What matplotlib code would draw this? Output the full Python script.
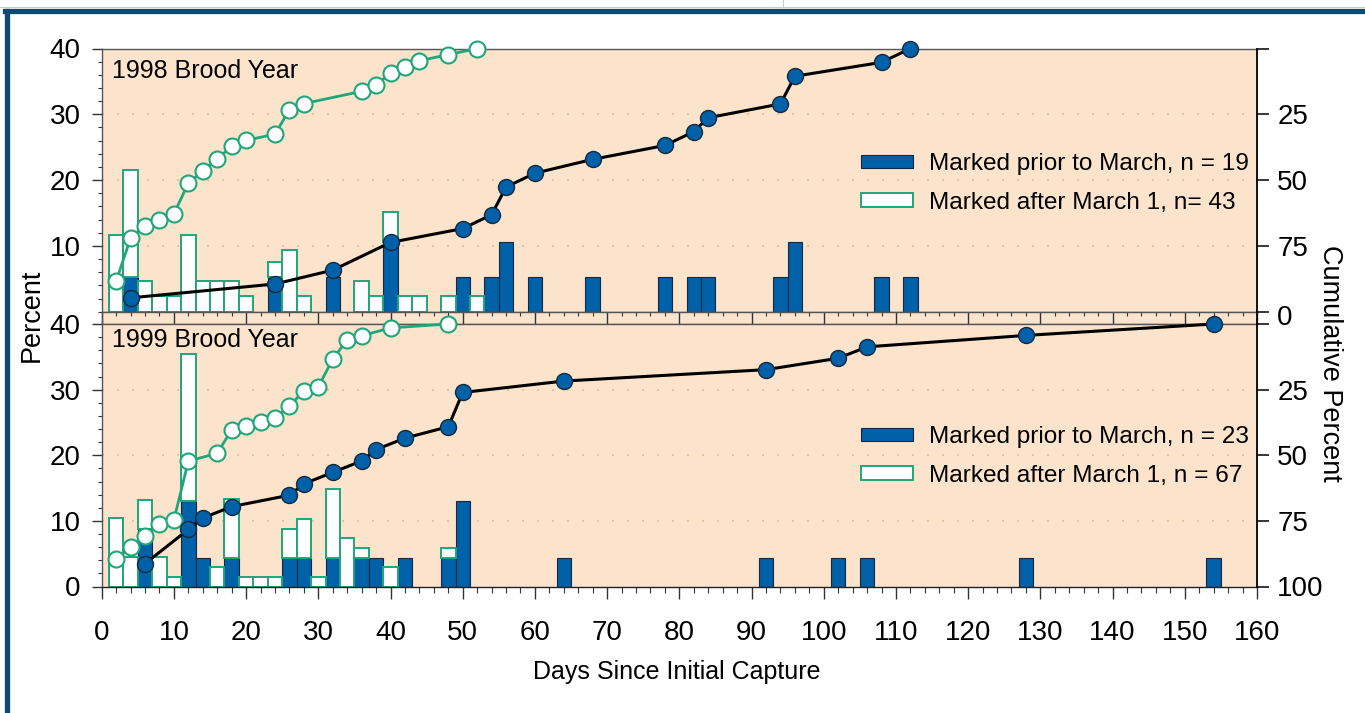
import numpy as np
import matplotlib
matplotlib.use("Agg")
import matplotlib.pyplot as plt
from matplotlib.patches import Patch
from matplotlib.lines import Line2D
from matplotlib.ticker import MultipleLocator

plt.rcParams['font.family'] = ['Liberation Sans', 'DejaVu Sans']

# fish counts per 2-day bin (bin centre in days since initial capture)
days_1998_prior = [4, 24, 32, 40, 50, 54, 56, 60, 68, 78, 82, 84, 94, 96, 108, 112]
counts_1998_prior = [1, 1, 1, 2, 1, 1, 2, 1, 1, 1, 1, 1, 1, 2, 1, 1]
days_1998_after = [2, 4, 6, 8, 10, 12, 14, 16, 18, 20, 24, 26, 28, 36, 38, 40, 42, 44, 48, 52]
counts_1998_after = [5, 7, 2, 1, 1, 5, 2, 2, 2, 1, 1, 4, 1, 2, 1, 2, 1, 1, 1, 1]

days_1999_prior = [6, 12, 14, 18, 26, 28, 32, 36, 38, 42, 48, 50, 64, 92, 102, 106, 128, 154]
counts_1999_prior = [2, 3, 1, 1, 1, 1, 1, 1, 1, 1, 1, 3, 1, 1, 1, 1, 1, 1]
days_1999_after = [2, 4, 6, 8, 10, 12, 16, 18, 20, 22, 24, 26, 28, 30, 32, 34, 36, 40, 48]
counts_1999_after = [7, 3, 3, 3, 1, 15, 2, 6, 1, 1, 1, 3, 4, 1, 7, 5, 1, 2, 1]

panel_titles = ["1998 Brood Year", "1999 Brood Year"]
prior_labels = ["Marked prior to March, n = 19", "Marked prior to March, n = 23"]
after_labels = ["Marked after March 1, n= 43", "Marked after March 1, n = 67"]

BG = '#fce4cc'
BLUE = '#0061a8'
NAVY = '#16283f'
GREEN = '#1fa67a'
GRID = '#e6c39e'
FRAME = '#0c4a72'
TICK_FS = 20

W, H = 1365, 713
fig = plt.figure(figsize=(W / 100, H / 100), dpi=100)

left = 101.7 / W
width = (1257 - 101.7) / W


def fy(py):
    return 1 - py / H


ax_top = fig.add_axes([left, fy(311.7), width, (311.7 - 48.5) / H])
strip = fig.add_axes([left, fy(324), width, (324 - 311.7) / H])
ax_bot = fig.add_axes([left, fy(586.5), width, (586.5 - 324) / H])


def draw_panel(ax, dp, cp, da, ca, title, lab_p, lab_a, title_y, leg_y):
    ax.set_facecolor(BG)
    ax.set_xlim(0, 160)
    ax.set_ylim(0, 40)
    ax.set_axisbelow(True)
    for y in (10, 20, 30):
        ax.axhline(y, color=GRID, lw=1.5, ls=(0, (1, 6.2)), zorder=0)

    n_p = sum(cp)
    n_a = sum(ca)
    pct_p = np.array(cp) / n_p * 100
    pct_a = np.array(ca) / n_a * 100
    lookup = dict(zip(dp, pct_p))
    base = [lookup.get(d, 0) for d in da]

    ax.bar(dp, pct_p, width=2, color=BLUE, edgecolor=NAVY, lw=0.8, zorder=2)
    ax.bar(da, pct_a, width=2, bottom=base, color='white', edgecolor=GREEN,
           lw=1.4, zorder=2)

    ax.text(0.0087, title_y, title, transform=ax.transAxes, ha='left', va='top',
            fontsize=18)

    handles = [Patch(facecolor=BLUE, edgecolor=NAVY, lw=0.8),
               Patch(facecolor='white', edgecolor=GREEN, lw=1.4)]
    ax.legend(handles, [lab_p, lab_a], loc='upper left', bbox_to_anchor=(0.657, leg_y),
              frameon=False, borderpad=0, borderaxespad=0, handlelength=2.12,
              handleheight=0.47, handletextpad=0.69, labelspacing=0.68,
              prop={'size': 17.6})

    # cumulative curves on the right axis (0 at top, 100 at bottom)
    tw = ax.twinx()
    tw.set_ylim(100, 0)
    cum_a = 100 - np.cumsum(ca) / n_a * 100
    cum_p = 100 - np.cumsum(cp) / n_p * 100
    tw.plot(da, cum_a, color=GREEN, lw=2.0, marker='o', ms=11.5, mfc='white',
            mec=GREEN, mew=1.5, zorder=3, clip_on=False)
    tw.plot(dp, cum_p, color='black', lw=2.2, marker='o', ms=11.5, mfc=BLUE,
            mec=NAVY, mew=1.0, zorder=4, clip_on=False)

    # left axis
    ax.yaxis.set_major_locator(MultipleLocator(10))
    ax.yaxis.set_minor_locator(MultipleLocator(2))
    ax.tick_params(axis='y', which='major', direction='out', length=7.2, width=1.0,
                   labelsize=TICK_FS, pad=8.0, color='#333333')
    ax.tick_params(axis='y', which='minor', direction='out', length=2.6, width=0.8,
                   color='#333333')
    ax.tick_params(right=False, which='both')
    for s in ('left', 'top', 'bottom'):
        ax.spines[s].set_color('#555555')
        ax.spines[s].set_linewidth(1.0)
    ax.spines['right'].set_visible(False)

    tw.set_yticks([0, 25, 50, 75, 100])
    tw.tick_params(axis='y', direction='out', length=8.6, width=1.1, labelsize=TICK_FS,
                   pad=6.0, color='black')
    for s in ('left', 'top', 'bottom'):
        tw.spines[s].set_visible(False)
    tw.spines['right'].set_color('black')
    tw.spines['right'].set_linewidth(1.3)
    return tw


tw_top = draw_panel(ax_top, days_1998_prior, counts_1998_prior, days_1998_after,
                    counts_1998_after, panel_titles[0], prior_labels[0], after_labels[0],
                    0.962, 0.602)
tw_bot = draw_panel(ax_bot, days_1999_prior, counts_1999_prior, days_1999_after,
                    counts_1999_after, panel_titles[1], prior_labels[1], after_labels[1],
                    0.985, 0.611)

# tick labels per panel
ax_top.set_yticks([10, 20, 30, 40])
ax_top.tick_params(axis='x', which='both', bottom=False, labelbottom=False)
tw_top.set_yticklabels(['', '25', '50', '75', ''])
tw_bot.set_yticklabels(['', '25', '50', '75', '100'])
ax_bot.set_yticks([0, 10, 20, 30, 40])

# tick strip between the panels
strip.set_facecolor(BG)
strip.set_xlim(0, 160)
strip.set_yticks([])
strip.xaxis.set_major_locator(MultipleLocator(10))
strip.xaxis.set_minor_locator(MultipleLocator(2))
strip.tick_params(axis='x', which='both', top=True, bottom=False, direction='in',
                  labeltop=False, labelbottom=False, color='#333333')
strip.tick_params(axis='x', which='major', length=8.9, width=1.0)
strip.tick_params(axis='x', which='minor', length=3.2, width=0.8)
for s in ('top', 'bottom', 'left'):
    strip.spines[s].set_color('#555555')
    strip.spines[s].set_linewidth(1.0)
strip.spines['right'].set_color('black')
strip.spines['right'].set_linewidth(1.3)
strip.annotate('0', xy=(1, 0.5), xycoords='axes fraction', xytext=(14.6, 0),
               textcoords='offset points', ha='left', va='center', fontsize=TICK_FS)

# bottom x axis
ax_bot.xaxis.set_major_locator(MultipleLocator(10))
ax_bot.xaxis.set_minor_locator(MultipleLocator(2))
ax_bot.tick_params(axis='x', which='major', direction='out', length=8.6, width=1.0,
                   labelsize=TICK_FS, pad=15.5, color='#333333')
ax_bot.tick_params(axis='x', which='minor', direction='out', length=4.0, width=0.8,
                   color='#333333')
ax_bot.spines['bottom'].set_color('#222222')

fig.text(677 / W, fy(672), "Days Since Initial Capture", ha='center', va='center',
         fontsize=18)
fig.text(32 / W, fy(315.5), "Percent", ha='center', va='center', rotation=90,
         fontsize=19.5)
fig.text(1330 / W, fy(363), "Cumulative Percent", ha='center', va='center',
         rotation=270, fontsize=19.5)

# outer frame of the page
fig.add_artist(Line2D([6.5 / W, 6.5 / W], [fy(10.8), -0.1], color=FRAME, lw=3.8))
fig.add_artist(Line2D([4.6 / W, 1.1], [fy(10.8), fy(10.8)], color=FRAME, lw=3.8))
fig.add_artist(Line2D([0, 1], [fy(6.8), fy(6.8)], color='#b9cfe0', lw=0.8))
fig.add_artist(Line2D([783 / W, 783 / W], [1, fy(6.8)], color='#b9cfe0', lw=0.8))

fig.savefig("out.png", dpi=100)
